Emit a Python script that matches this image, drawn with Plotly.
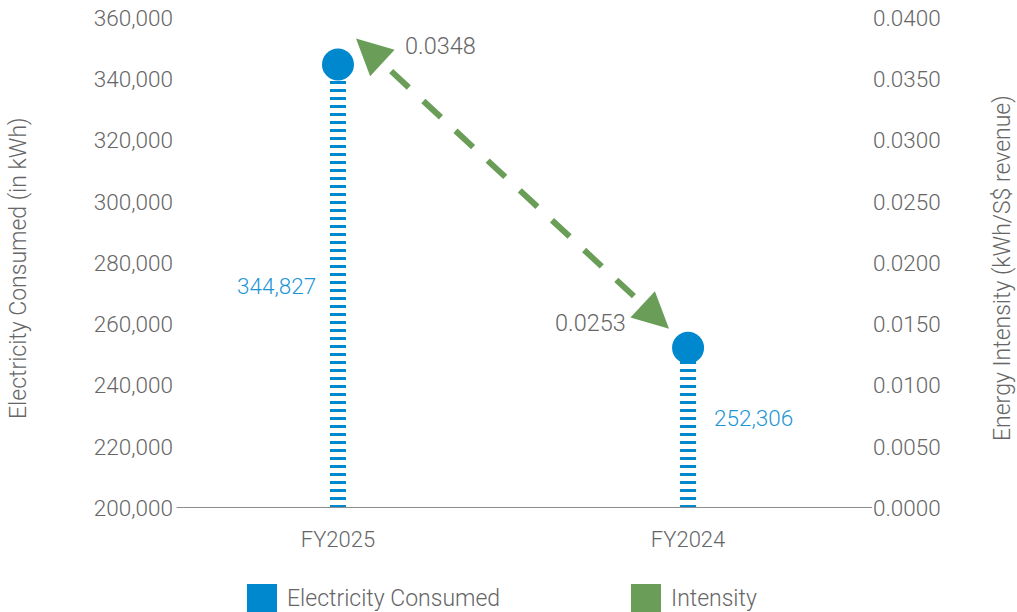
import math
import plotly.graph_objects as go

# Data
years = ["FY2025", "FY2024"]
electricity_kwh = [344827, 252306]
intensity = [0.0348, 0.0253]

left_ticks = [200000, 220000, 240000, 260000, 280000, 300000, 320000, 340000, 360000]
right_ticks = [0.0, 0.005, 0.010, 0.015, 0.020, 0.025, 0.030, 0.035, 0.040]

BLUE = "#0088cf"
BLUE_TEXT = "#1d96d6"
GREEN = "#6a9e58"
GREY_TEXT = "#666666"
AXIS_GREY = "#8c8c8c"
FONT = "Roboto"

W, H = 1017, 612
M = dict(l=178, r=149, t=18, b=104)
X_RANGE = [-0.457, 1.514]
Y_RANGE = [200000, 360000]
Y2_RANGE = [0, 0.04]

xs = list(range(len(years)))

plot_w = W - M["l"] - M["r"]
plot_h = H - M["t"] - M["b"]
px_x = plot_w / (X_RANGE[1] - X_RANGE[0])   # pixels per x unit
px_y = plot_h / (Y_RANGE[1] - Y_RANGE[0])   # pixels per kWh


def font(size, color=GREY_TEXT):
    return dict(family=FONT, size=size, color=color, weight=300)


def paper_x(px):
    return (px - M["l"]) / plot_w


def paper_y(py):
    return (H - M["b"] - py) / plot_h


fig = go.Figure()

# Striped stems
for x, v in zip(xs, electricity_kwh):
    fig.add_trace(go.Scatter(
        x=[x, x], y=[Y_RANGE[0], v], mode="lines",
        line=dict(color=BLUE, width=16, dash="3px,5px"),
        hoverinfo="skip", showlegend=False,
    ))

# Circle heads
fig.add_trace(go.Scatter(
    x=xs, y=electricity_kwh, mode="markers",
    marker=dict(color=BLUE, size=32, line=dict(width=0)),
    showlegend=False, hoverinfo="skip",
))

# Value labels next to the stems
for x, v, side, dy in zip(xs, electricity_kwh, [-1, 1], [0, 10]):
    fig.add_annotation(
        x=x, y=(Y_RANGE[0] + v) / 2, text=f"{v:,}", showarrow=False,
        xanchor="right" if side < 0 else "left",
        xshift=-20 if side < 0 else 24, yshift=dy,
        font=font(22.5, BLUE_TEXT),
    )

# Dashed double-headed arrow between the two circle heads (intensity trend)
# tip offsets from each circle centre, in pixels (right, up)
tip_offsets = [(18, 26), (-19, 19)]
tips = [(x + ox / px_x, v + oy / px_y)
        for x, v, (ox, oy) in zip(xs, electricity_kwh, tip_offsets)]
dx_px = (tips[1][0] - tips[0][0]) * px_x
dy_px = (tips[0][1] - tips[1][1]) * px_y
seg = math.hypot(dx_px, dy_px)
ux, uy = dx_px / seg, dy_px / seg


def along(t):
    return (tips[0][0] + t * (tips[1][0] - tips[0][0]),
            tips[0][1] + t * (tips[1][1] - tips[0][1]))


head_len = 30
clear = head_len + 18          # space between tip and first dash
dash_len = 24
run = seg - 2 * clear
n_dash = max(2, round((run + 20) / (dash_len + 20)))
space = (run - n_dash * dash_len) / (n_dash - 1)
a0, a1 = along(clear / seg), along(1 - clear / seg)
fig.add_trace(go.Scatter(
    x=[a0[0], a1[0]], y=[a0[1], a1[1]], mode="lines",
    line=dict(color=GREEN, width=6, dash=f"{dash_len}px,{space:.2f}px"),
    hoverinfo="skip", showlegend=False,
))

for (px, py), sgn in zip(tips, [1, -1]):
    fig.add_annotation(
        x=px, y=py, ax=sgn * ux * head_len, ay=sgn * uy * head_len,
        text="", showarrow=True, arrowhead=2, arrowsize=1.2,
        arrowwidth=6, arrowcolor=GREEN,
    )

# Intensity labels
for x, v, val, (sx, sy) in zip(xs, electricity_kwh, intensity, [(103, 18), (-98, 25)]):
    fig.add_annotation(
        x=x, y=v, text=f"{val:.4f}", showarrow=False,
        xshift=sx, yshift=sy, font=font(23.5),
    )

# Secondary axis carrier
fig.add_trace(go.Scatter(x=[None], y=[None], yaxis="y2", showlegend=False,
                         hoverinfo="skip"))

fig.update_layout(
    width=W, height=H, margin=M,
    paper_bgcolor="white", plot_bgcolor="white",
    showlegend=False,
    xaxis=dict(
        range=X_RANGE, tickvals=xs, ticktext=years,
        showgrid=False, zeroline=False, showline=False, automargin=False,
        ticks="", tickfont=font(22), ticklabelstandoff=16,
    ),
    yaxis=dict(
        range=Y_RANGE, tickvals=left_ticks,
        ticktext=[f"{v:,}" for v in left_ticks],
        showgrid=False, zeroline=False, showline=False, ticks="",
        automargin=False, tickfont=font(22.5), ticklabelstandoff=4,
    ),
    yaxis2=dict(
        range=Y2_RANGE, tickvals=right_ticks,
        ticktext=[f"{v:.4f}" for v in right_ticks],
        overlaying="y", side="right",
        showgrid=False, zeroline=False, showline=False, ticks="",
        automargin=False, tickfont=font(22.5), ticklabelstandoff=4,
    ),
)

# Axis titles
for text, px in [("Electricity Consumed (in kWh)", 18),
                 ("Energy Intensity (kWh/S$ revenue)", 1002)]:
    fig.add_annotation(xref="paper", yref="paper", x=paper_x(px), y=paper_y(268),
                       text=text, textangle=-90, showarrow=False,
                       xanchor="center", yanchor="middle", font=font(23))

# Baseline
fig.add_shape(type="line", xref="paper", yref="y", x0=-0.002, x1=1.006,
              y0=Y_RANGE[0], y1=Y_RANGE[0],
              line=dict(color=AXIS_GREY, width=2))

# Legend drawn below the plot
legend_items = [("Electricity Consumed", BLUE, 247), ("Intensity", GREEN, 631)]
for label, color, left in legend_items:
    fig.add_shape(type="rect", xref="paper", yref="paper",
                  x0=paper_x(left), x1=paper_x(left + 30),
                  y0=paper_y(614), y1=paper_y(584),
                  fillcolor=color, line=dict(width=0))
    fig.add_annotation(xref="paper", yref="paper",
                       x=paper_x(left + 38), y=paper_y(598),
                       text=label, showarrow=False, xanchor="left", yanchor="middle",
                       font=font(23))

fig.write_html("out.html")
